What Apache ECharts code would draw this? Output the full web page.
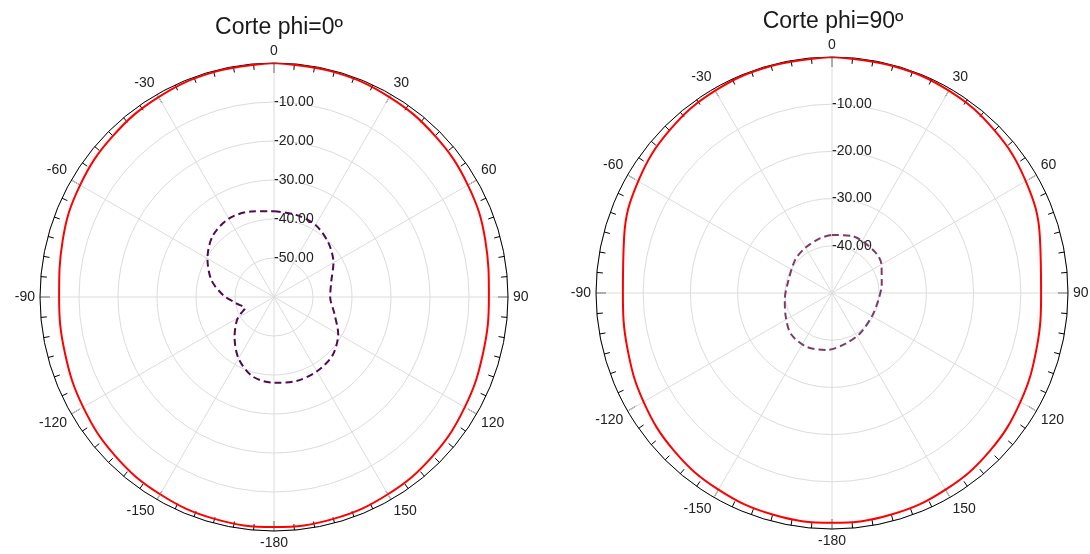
<!DOCTYPE html>
<html>
<head>
<meta charset="utf-8">
<script src="https://cdn.jsdelivr.net/npm/echarts@6/dist/echarts.min.js"></script>
<style>
  html, body { margin: 0; padding: 0; background: #fff; }
  #chart { width: 1090px; height: 554px; }
</style>
</head>
<body>
<div id="chart"></div>
<script>
// Corte phi=0º
const redAngles0 = [0, 15, 30, 45, 60, 75, 90, 105, 120, 135, 150, 165, 180, -165, -150, -135, -120, -105, -90, -75, -60, -45, -30, -15]
const redValues0 = [0, -0.3, -0.8, -1.6, -2.6, -3.9, -4.9, -4.5, -3.5, -2.4, -1.6, -1.1, -1.0, -1.1, -1.6, -2.4, -3.5, -4.5, -4.9, -3.9, -2.6, -1.6, -0.8, -0.3]
const purpleAngles0 = [0, 15, 30, 45, 60, 75, 90, 105, 120, 135, 150, 165, 180, -165, -150, -135, -122, -116, -111, -100, -88, -75, -60, -45, -30, -15]
const purpleValues0 = [-38, -38.2, -38.7, -40.3, -42.4, -44.8, -45.6, -44.0, -41.0, -38.8, -38.0, -37.7, -38.0, -38.9, -41.8, -45.7, -48.8, -50.7, -52.0, -50.3, -47.0, -43.4, -40.3, -37.8, -36.8, -37.3]

// Corte phi=90º
const redAngles90 = [0, 15, 30, 45, 60, 75, 90, 105, 120, 135, 150, 165, 180, -165, -150, -135, -120, -105, -90, -75, -60, -45, -30, -15]
const redValues90 = [0, -0.2, -0.5, -1.3, -2.6, -4.4, -5.7, -5.1, -3.9, -2.7, -1.9, -1.4, -1.3, -1.4, -1.9, -2.7, -3.9, -5.1, -5.7, -4.4, -2.6, -1.3, -0.5, -0.2]
const purpleAngles90 = [0, 20, 45, 60, 80, 100, 120, 145, 165, -175, -155, -135, -117, -98, -75, -48, -31, -12]
const purpleValues90 = [-37.7, -37.2, -37.4, -37.9, -39.3, -40.1, -40.2, -39.6, -38.9, -37.9, -37.4, -37.7, -39.0, -39.9, -40.4, -39.5, -38.9, -38.1]

const angleLabels = [0, 30, 60, 90, 120, 150, -180, -150, -120, -90, -60, -30]
const titles = ['Corte phi=0º', 'Corte phi=90º']

//極座標データ作成（閉じた曲線）
function toPolar(angles, values) {
  const arr = angles.map((a, i) => [values[i], a < 0 ? a + 360 : a])
  arr.push([values[0], angles[0] < 0 ? angles[0] + 360 : angles[0]])
  return arr
}

function angleAxisOf(idx) {
  return {
    polarIndex: idx,
    type: 'value',
    min: 0,
    max: 360,
    interval: 30,
    startAngle: 90,
    clockwise: true,
    axisLine: { show: true, lineStyle: { color: '#000', width: 1 } },
    axisTick: { show: true, inside: true, length: 10, lineStyle: { color: '#000' } },
    minorTick: { show: true, splitNumber: 6, length: 6, lineStyle: { color: '#000' } },
    axisLabel: {
      margin: 5,
      color: '#222',
      fontSize: 14,
      fontFamily: 'Liberation Sans, Arial, sans-serif',
      formatter: (v) => {
        const a = v >= 180 ? v - 360 : v
        return angleLabels.indexOf(a) >= 0 ? String(a) : ''
      }
    },
    splitLine: { show: true, lineStyle: { color: '#dcdcdc', width: 1 } }
  }
}

function radiusAxisOf(idx, min) {
  return {
    polarIndex: idx,
    type: 'value',
    min: min,
    max: 0,
    interval: 10,
    axisLine: { show: false },
    axisTick: { show: false },
    axisLabel: {
      margin: 0,
      align: 'left',
      verticalAlign: 'middle',
      color: '#222',
      fontSize: 14,
      fontFamily: 'Liberation Sans, Arial, sans-serif',
      formatter: (v) => (v === 0 || v === min ? '' : v.toFixed(2))
    },
    splitLine: { show: true, lineStyle: { color: '#dcdcdc', width: 1 } }
  }
}

const chart = echarts.init(document.getElementById('chart'), null, { renderer: 'canvas' })
chart.setOption({
  animation: false,
  backgroundColor: '#fff',
  title: [
    { text: titles[0], left: 274, top: 11, textAlign: 'center',
      textStyle: { fontSize: 23, fontWeight: 'normal', color: '#1a1a1a', fontFamily: 'Liberation Sans, Arial, sans-serif' } },
    { text: titles[1], left: 828, top: 5, textAlign: 'center',
      textStyle: { fontSize: 23, fontWeight: 'normal', color: '#1a1a1a', fontFamily: 'Liberation Sans, Arial, sans-serif' } }
  ],
  polar: [
    { center: [274, 297], radius: 234 },
    { center: [832, 293], radius: 236 }
  ],
  angleAxis: [angleAxisOf(0), angleAxisOf(1)],
  radiusAxis: [radiusAxisOf(0, -60), radiusAxisOf(1, -50)],
  series: [
    {
      type: 'line', coordinateSystem: 'polar', polarIndex: 0,
      data: toPolar(redAngles0, redValues0), smooth: 0.4,
      showSymbol: false, lineStyle: { color: '#ff0000', width: 2 }, z: 3
    },
    {
      type: 'line', coordinateSystem: 'polar', polarIndex: 0,
      data: toPolar(purpleAngles0, purpleValues0), smooth: 0.3,
      showSymbol: false, lineStyle: { color: '#4e0b52', width: 2, type: [7, 4] }, z: 3
    },
    {
      type: 'line', coordinateSystem: 'polar', polarIndex: 1,
      data: toPolar(redAngles90, redValues90), smooth: 0.4,
      showSymbol: false, lineStyle: { color: '#ff0000', width: 2 }, z: 3
    },
    {
      type: 'line', coordinateSystem: 'polar', polarIndex: 1,
      data: toPolar(purpleAngles90, purpleValues90), smooth: 0.3,
      showSymbol: false, lineStyle: { color: '#7b3a6c', width: 2, type: [7, 4] }, z: 3
    }
  ]
})
</script>
</body>
</html>
